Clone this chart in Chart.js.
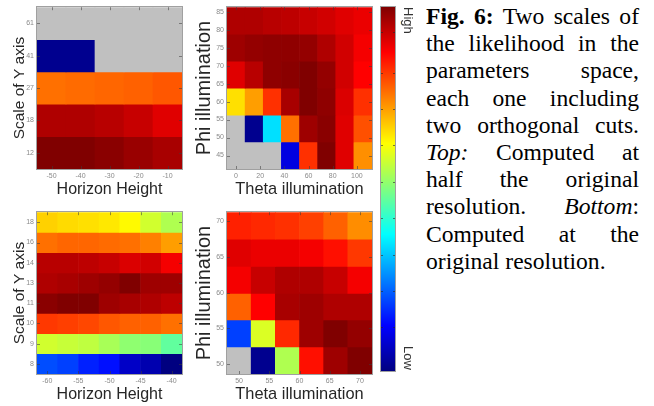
<!DOCTYPE html>
<html>
<head>
<meta charset="utf-8">
<script src="https://cdn.jsdelivr.net/npm/chart.js@4.4.1/dist/chart.umd.min.js"></script>
<style>
  body { margin: 0; background: #fff; }
  #page { position: relative; width: 654px; height: 406px; overflow: hidden; }
  canvas { position: absolute; }
  .cap { position: absolute; left: 426px; top: 3px; width: 213px; font-family: "Liberation Serif", "Times New Roman", serif; font-size: 23.6px; line-height: 27.2px; color: #000; }
  .cap div { text-align: justify; text-align-last: justify; }
  .cap div.last { text-align-last: left; }
  .cb { position: absolute; left: 402px; writing-mode: vertical-rl; font-family: "Liberation Sans", Arial, sans-serif; font-size: 13px; line-height: 13px; color: #333; }
</style>
</head>
<body>
<div id="page">
  <canvas id="tl" width="190" height="200" style="left:0;top:0"></canvas>
  <canvas id="tm" width="190" height="200" style="left:190px;top:0"></canvas>
  <canvas id="bl" width="190" height="201" style="left:0;top:205px"></canvas>
  <canvas id="bm" width="190" height="201" style="left:190px;top:205px"></canvas>
  <canvas id="cbar" width="26" height="380" style="left:375px;top:0"></canvas>
  <span class="cb" style="top:7px">High</span>
  <span class="cb" style="top:346px">Low</span>
  <div class="cap">
    <div><b>Fig. 6:</b> Two scales of</div>
    <div>the likelihood in the</div>
    <div>parameters space,</div>
    <div>each one including</div>
    <div>two orthogonal cuts.</div>
    <div><i>Top:</i> Computed at</div>
    <div>half the original</div>
    <div>resolution. <i>Bottom</i>:</div>
    <div>Computed at the</div>
    <div class="last">original resolution.</div>
  </div>
</div>
<script>
// jet colour map (MATLAB style)
const jetStops = [
  [0, [0, 0, 0.5]],
  [0.125, [0, 0, 1]],
  [0.375, [0, 1, 1]],
  [0.625, [1, 1, 0]],
  [0.875, [1, 0, 0]],
  [1, [0.5, 0, 0]]
];
const nanColor = '#c0c0c0';

// top left: half resolution, horizon height x scale of Y axis
const tlHorizon = [-50, -40, -30, -20, -10];
const tlHorizonTicks = [-50, -40, -30, -20, -10];
const tlScaleLabels = ['12', '18', '27', '41', '61'];   // bottom to top
const tlValues = [
  [1.0, 1.0, 0.99, 0.975, 0.96],
  [0.953, 0.953, 0.945, 0.93, 0.905],
  [0.765, 0.77, 0.775, 0.78, 0.79],
  [0.015, 0.015, null, null, null],
  [null, null, null, null, null]
];

// top middle: half resolution, theta x phi illumination
const tmTheta = [0, 15, 30, 45, 60, 75, 90, 105];
const tmThetaTicks = [0, 20, 40, 60, 80, 100];
const tmPhi = [45, 52.5, 60, 67.5, 75, 82.5];
const tmPhiTicks = [45, 50, 55, 60, 65, 70, 75, 80, 85];
const tmValues = [
  [null, null, null, 0.095, 0.828, 1.0, 0.905, 0.735],
  [null, 0.015, 0.345, 0.765, 0.97, 0.99, 0.905, 0.797],
  [0.655, 0.72, 0.828, 0.96, 1.0, 0.985, 0.91, 0.828],
  [0.905, 0.945, 0.985, 0.99, 1.0, 0.98, 0.92, 0.875],
  [0.97, 0.98, 0.985, 0.985, 0.98, 0.953, 0.92, 0.885],
  [0.953, 0.953, 0.945, 0.94, 0.93, 0.92, 0.905, 0.895]
];

// bottom left: original resolution
const blHorizon = [-60, -56.67, -53.33, -50, -46.67, -43.33, -40];
const blHorizonTicks = [-60, -55, -50, -45, -40];
const blScaleLabels = ['8', '9', '10', '11', '13', '14', '16', '18'];
const blValues = [
  [0.2, 0.1875, 0.156, 0.14, 0.07, 0.047, 0.0],
  [0.58, 0.57, 0.5625, 0.54, 0.515, 0.508, 0.47],
  [0.82, 0.813, 0.805, 0.79, 0.78, 0.78, 0.765],
  [0.99, 1.0, 1.0, 0.97, 0.96, 0.953, 0.94],
  [0.953, 0.96, 0.97, 0.98, 1.0, 0.97, 0.97],
  [0.945, 0.945, 0.94, 0.93, 0.91, 0.92, 0.885],
  [0.765, 0.775, 0.775, 0.77, 0.765, 0.75, 0.72],
  [0.67, 0.66, 0.655, 0.648, 0.63, 0.58, 0.547]
];

// bottom middle: original resolution
const bmTheta = [50, 54, 58, 62, 66, 70];
const bmThetaTicks = [50, 55, 60, 65, 70];
const bmPhi = [50.5, 54.3, 58.1, 61.8, 65.6, 69.4];
const bmPhiTicks = [50, 55, 60, 65, 70];
const bmValues = [
  [null, 0.015, 0.547, 0.86, 0.97, 1.0],
  [0.1875, 0.59, 0.836, 0.97, 1.0, 0.98],
  [0.78, 0.875, 0.96, 0.97, 0.953, 0.953],
  [0.885, 0.93, 0.953, 0.953, 0.93, 0.885],
  [0.905, 0.895, 0.895, 0.885, 0.86, 0.82],
  [0.844, 0.836, 0.828, 0.8125, 0.78, 0.737]
];

// colour bar tick marks
const cbTicks = [0.12, 0.22, 0.32, 0.42, 0.52, 0.62, 0.72, 0.82, 0.93];

function jet(v) {
  for (let i = 1; i < jetStops.length; i++) {
    const [p1, c1] = jetStops[i];
    const [p0, c0] = jetStops[i - 1];
    if (v <= p1) {
      const t = (v - p0) / (p1 - p0);
      const c = c0.map((a, k) => Math.round(255 * (a + (c1[k] - a) * t)));
      return 'rgb(' + c.join(',') + ')';
    }
  }
  return 'rgb(128,0,0)';
}

const sans = '"Liberation Sans", Arial, sans-serif';
const tickFont = { family: sans, size: 7 };
const tickColor = '#8a8a8a';
const titleColor = '#262626';

// axes box and inward tick marks like matlab
const boxPlugin = {
  id: 'box',
  afterDatasetsDraw(chart) {
    const { ctx, chartArea: a, scales } = chart;
    ctx.save();
    ctx.strokeStyle = 'rgba(60,60,60,0.55)';
    ctx.lineWidth = 1;
    ctx.beginPath();
    scales.x.ticks.forEach(t => {
      const px = Math.round(scales.x.getPixelForValue(t.value)) + 0.5;
      ctx.moveTo(px, a.bottom); ctx.lineTo(px, a.bottom - 3);
      ctx.moveTo(px, a.top); ctx.lineTo(px, a.top + 3);
    });
    scales.y.ticks.forEach(t => {
      const py = Math.round(scales.y.getPixelForValue(t.value)) + 0.5;
      ctx.moveTo(a.left, py); ctx.lineTo(a.left + 3, py);
      ctx.moveTo(a.right, py); ctx.lineTo(a.right - 3, py);
    });
    ctx.stroke();
    ctx.strokeStyle = '#a0a0a0';
    ctx.strokeRect(Math.round(a.left) - 0.5, Math.round(a.top) - 0.5, Math.round(a.right - a.left) + 1, Math.round(a.bottom - a.top) + 1);
    ctx.restore();
  }
};

function heatmap(id, cfg) {
  const xs = cfg.xs, ys = cfg.ys;
  const dx = xs[1] - xs[0], dy = ys[1] - ys[0];
  const points = [], colors = [];
  cfg.values.forEach((row, i) => row.forEach((v, j) => {
    points.push({ x: xs[j], y: [ys[i] - dy / 2, ys[i] + dy / 2] });
    colors.push(v === null ? nanColor : jet(v));
  }));
  const yLabels = cfg.yLabels;
  return new Chart(document.getElementById(id), {
    type: 'bar',
    data: {
      datasets: [{
        data: points,
        backgroundColor: colors,
        borderWidth: 0,
        barPercentage: 1,
        categoryPercentage: 1
      }]
    },
    options: {
      responsive: false,
      animation: false,
      layout: { padding: { top: 7, right: 8, left: 0, bottom: 0 } },
      plugins: { legend: { display: false }, tooltip: { enabled: false } },
      scales: {
        x: {
          type: 'linear',
          offset: false,
          min: xs[0] - dx / 2,
          max: xs[xs.length - 1] + dx / 2,
          grid: { display: false, drawTicks: false },
          border: { display: false },
          afterBuildTicks: s => { s.ticks = cfg.xTicks.map(v => ({ value: v })); },
          afterFit: s => { s.height = cfg.xHeight; },
          ticks: { font: tickFont, color: tickColor, padding: 3, maxRotation: 0, autoSkip: false },
          title: {
            display: true, text: cfg.xTitle, color: titleColor,
            font: { family: sans, size: cfg.xTitleSize },
            padding: { top: 0, bottom: cfg.xTitlePad }
          }
        },
        y: {
          type: 'linear',
          beginAtZero: false,
          min: ys[0] - dy / 2,
          max: ys[ys.length - 1] + dy / 2,
          grid: { display: false, drawTicks: false },
          border: { display: false },
          afterBuildTicks: s => { s.ticks = cfg.yTicks.map(v => ({ value: v })); },
          afterFit: s => { s.width = 37; },
          ticks: {
            font: tickFont, color: tickColor, padding: 3, autoSkip: false,
            callback: v => yLabels ? yLabels[v] : v
          },
          title: {
            display: true, text: cfg.yTitle, color: titleColor,
            font: { family: sans, size: cfg.yTitleSize },
            padding: { top: cfg.yTitlePad, bottom: 0 }
          }
        }
      }
    },
    plugins: [boxPlugin]
  });
}

const idx = n => Array.from({ length: n }, (_, i) => i);

heatmap('tl', {
  xs: tlHorizon, ys: idx(tlScaleLabels.length), values: tlValues,
  xTicks: tlHorizonTicks, yTicks: idx(tlScaleLabels.length), yLabels: tlScaleLabels,
  xTitle: 'Horizon Height', xTitleSize: 16, xTitlePad: 1, xHeight: 31,
  yTitle: 'Scale of Y axis', yTitleSize: 15.5, yTitlePad: 10
});
heatmap('tm', {
  xs: tmTheta, ys: tmPhi, values: tmValues,
  xTicks: tmThetaTicks, yTicks: tmPhiTicks,
  xTitle: 'Theta illumination', xTitleSize: 16.4, xTitlePad: 1, xHeight: 31,
  yTitle: 'Phi illumination', yTitleSize: 20, yTitlePad: 2
});
heatmap('bl', {
  xs: blHorizon, ys: idx(blScaleLabels.length), values: blValues,
  xTicks: blHorizonTicks, yTicks: idx(blScaleLabels.length), yLabels: blScaleLabels,
  xTitle: 'Horizon Height', xTitleSize: 16, xTitlePad: 1.4, xHeight: 32,
  yTitle: 'Scale of Y axis', yTitleSize: 15.5, yTitlePad: 10
});
heatmap('bm', {
  xs: bmTheta, ys: bmPhi, values: bmValues,
  xTicks: bmThetaTicks, yTicks: bmPhiTicks,
  xTitle: 'Theta illumination', xTitleSize: 16.4, xTitlePad: 1.4, xHeight: 32,
  yTitle: 'Phi illumination', yTitleSize: 20, yTitlePad: 2
});

// colour bar
new Chart(document.getElementById('cbar'), {
  type: 'bar',
  data: {
    labels: ['cb'],
    datasets: [{
      data: [[0, 1]],
      borderWidth: 0,
      barPercentage: 1,
      categoryPercentage: 1,
      backgroundColor: c => {
        const a = c.chart.chartArea;
        if (!a) return nanColor;
        const g = c.chart.ctx.createLinearGradient(0, a.bottom, 0, a.top);
        jetStops.forEach(([p, col]) => g.addColorStop(p, 'rgb(' + col.map(k => Math.round(k * 255)).join(',') + ')'));
        return g;
      }
    }]
  },
  options: {
    responsive: false,
    animation: false,
    layout: { padding: { top: 7, bottom: 9, left: 6, right: 6 } },
    plugins: { legend: { display: false }, tooltip: { enabled: false } },
    scales: {
      x: { display: false },
      y: {
        display: false, min: 0, max: 1,
        afterBuildTicks: s => { s.ticks = cbTicks.map(v => ({ value: v })); }
      }
    }
  },
  plugins: [{
    id: 'cbbox',
    afterDatasetsDraw(chart) {
      const { ctx, chartArea: a, scales } = chart;
      ctx.save();
      ctx.strokeStyle = 'rgba(40,40,40,0.6)';
      ctx.beginPath();
      scales.y.ticks.forEach(t => {
        const py = Math.round(scales.y.getPixelForValue(t.value)) + 0.5;
        ctx.moveTo(a.left, py); ctx.lineTo(a.left + 2, py);
        ctx.moveTo(a.right, py); ctx.lineTo(a.right - 2, py);
      });
      ctx.stroke();
      ctx.strokeStyle = '#a0a0a0';
      ctx.strokeRect(Math.round(a.left) - 0.5, Math.round(a.top) - 0.5, Math.round(a.right - a.left) + 1, Math.round(a.bottom - a.top) + 1);
      ctx.restore();
    }
  }]
});
</script>
</body>
</html>
